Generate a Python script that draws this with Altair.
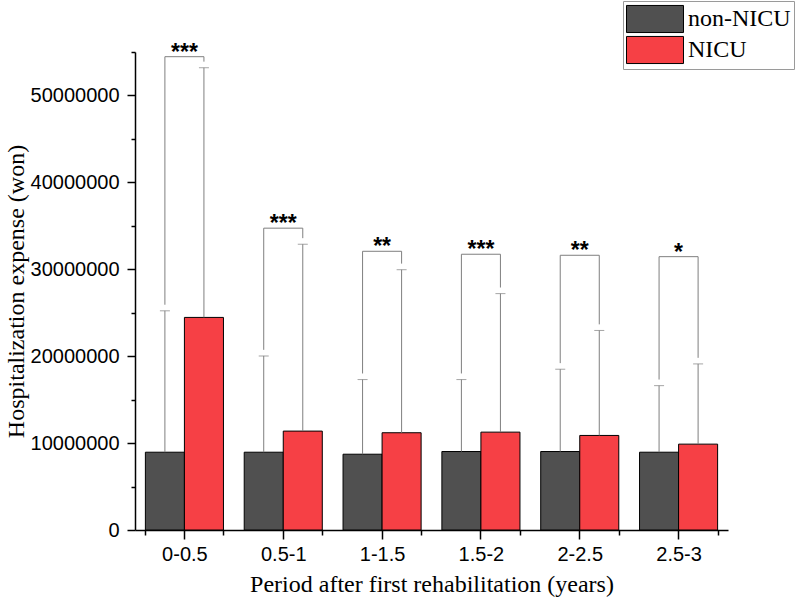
import altair as alt
import pandas as pd

# Mean hospitalization expense (won) and SD per period, by group
periods = ["0-0.5", "0.5-1", "1-1.5", "1.5-2", "2-2.5", "2.5-3"]
groups = ["non-NICU", "NICU"]
non_nicu_mean = [8950000, 8950000, 8720000, 9030000, 9030000, 8950000]
non_nicu_sd = [16270000, 11080000, 8590000, 8280000, 9470000, 7660000]
nicu_mean = [24460000, 11380000, 11190000, 11260000, 10880000, 9880000]
nicu_sd = [28730000, 21500000, 18760000, 15940000, 12080000, 9230000]

# Significance brackets
bracket_top = [54460000, 34730000, 32070000, 31730000, 31610000, 31450000]
stars = ["***", "***", "**", "***", "**", "*"]

major_ticks = [0, 10000000, 20000000, 30000000, 40000000, 50000000]
minor_ticks = [5000000, 15000000, 25000000, 35000000, 45000000, 55000000]

DARK = "#505050"
RED = "#f64045"
LINE = "#7f7f7f"
LEG_GAP = 700000  # small gap between an error cap and the bracket leg above it

rows = []
for i, p in enumerate(periods):
    rows.append({"period": p, "group": "non-NICU", "mean": non_nicu_mean[i],
                 "hi": non_nicu_mean[i] + non_nicu_sd[i]})
    rows.append({"period": p, "group": "NICU", "mean": nicu_mean[i],
                 "hi": nicu_mean[i] + nicu_sd[i]})
bars = pd.DataFrame(rows)

br_rows = []
for i, p in enumerate(periods):
    lo_left = non_nicu_mean[i] + non_nicu_sd[i] + LEG_GAP
    lo_right = nicu_mean[i] + nicu_sd[i] + LEG_GAP
    br_rows += [
        {"period": p, "group": "non-NICU", "y": lo_left, "step": 0},
        {"period": p, "group": "non-NICU", "y": bracket_top[i], "step": 1},
        {"period": p, "group": "NICU", "y": bracket_top[i], "step": 2},
        {"period": p, "group": "NICU", "y": lo_right, "step": 3},
    ]
brackets = pd.DataFrame(br_rows)
labels = pd.DataFrame({"period": periods, "top": bracket_top, "stars": stars})

x_scale = alt.Scale(domain=periods, paddingInner=0.21, paddingOuter=0.105)
off_scale = alt.Scale(domain=groups, paddingInner=0, paddingOuter=0)
y_scale = alt.Scale(domain=[0, 55000000], nice=False, zero=True)

x_main = alt.X(
    "period:N", scale=x_scale,
    axis=alt.Axis(
        title="Period after first rehabilitation (years)", orient="bottom",
        tickBand="extent", tickSize=5, tickWidth=1.5, tickColor="black",
        domainColor="black", domainWidth=1.5, labelAngle=0,
        labelFont="Liberation Sans", labelFontSize=20, labelColor="black",
        labelPadding=9,
        titleFont="Liberation Serif", titleFontSize=24, titleFontWeight="normal",
        titleColor="black", titlePadding=8,
    ),
)
y_main = alt.Y(
    "mean:Q", scale=y_scale,
    axis=alt.Axis(
        title="Hospitalization expense (won)", orient="left", values=major_ticks,
        format="d", tickSize=8, tickWidth=1.5, tickColor="black",
        domainColor="black", domainWidth=1.5, grid=False,
        labelFont="Liberation Sans", labelFontSize=20, labelColor="black",
        labelPadding=8,
        titleFont="Liberation Serif", titleFontSize=24, titleFontWeight="normal",
        titleColor="black", titlePadding=2,
    ),
)

bar_layer = alt.Chart(bars).mark_bar(stroke="black", strokeWidth=1).encode(
    x=x_main,
    xOffset=alt.XOffset("group:N", scale=off_scale),
    y=y_main,
    color=alt.Color(
        "group:N",
        scale=alt.Scale(domain=groups, range=[DARK, RED]),
        legend=alt.Legend(
            title=None, orient="none", legendX=488, legendY=-51,
            direction="vertical",
            symbolType="M-2,-0.95H2V0.95H-2Z", symbolSize=812,
            symbolOffset=14, labelOffset=18,
            symbolStrokeColor="black", symbolStrokeWidth=1, symbolOpacity=1,
            labelFont="Liberation Serif", labelFontSize=24, labelColor="black",
            strokeColor="#9a9a9a", fillColor="white",
            padding=3, rowPadding=-3,
        ),
    ),
)

# Error bars carry the minor ticks of both axes
err_layer = alt.Chart(bars).mark_rule(color=LINE, strokeWidth=1).encode(
    x=alt.X("period:N", scale=x_scale,
            axis=alt.Axis(title=None, orient="bottom", labels=False, domain=False,
                          tickSize=9, tickWidth=1.5, tickColor="black",
                          tickBand="center")),
    xOffset=alt.XOffset("group:N", scale=off_scale),
    y=alt.Y("mean:Q", scale=y_scale,
            axis=alt.Axis(title=None, orient="left", values=minor_ticks,
                          labels=False, domain=False, grid=False,
                          tickSize=4, tickWidth=1.5, tickColor="black")),
    y2="hi:Q",
)

cap_layer = alt.Chart(bars).mark_tick(color=LINE, size=10, thickness=1).encode(
    x=alt.X("period:N", scale=x_scale, axis=None),
    xOffset=alt.XOffset("group:N", scale=off_scale),
    y=alt.Y("hi:Q", scale=y_scale, axis=None),
)

bracket_layer = alt.Chart(brackets).mark_line(color=LINE, strokeWidth=1).encode(
    x=alt.X("period:N", scale=x_scale, axis=None),
    xOffset=alt.XOffset("group:N", scale=off_scale),
    y=alt.Y("y:Q", scale=y_scale, axis=None),
    detail="period:N",
    order="step:Q",
)

star_layer = alt.Chart(labels).mark_text(
    font="Liberation Sans", fontSize=23, fontWeight="bold", color="black",
    baseline="alphabetic", dy=3
).encode(
    x=alt.X("period:N", scale=x_scale, axis=None),
    y=alt.Y("top:Q", scale=y_scale, axis=None),
    text="stars:N",
)

chart = (
    alt.layer(bar_layer, err_layer, cap_layer, bracket_layer, star_layer)
    .resolve_axis(x="independent", y="independent")
    .properties(
        width=593, height=478,
        autosize=alt.AutoSizeParams(type="none"),
        padding={"left": 135, "top": 52, "right": 72, "bottom": 76},
        background="white",
    )
    .configure_view(stroke=None)
)

chart.save("out.html", embed_options={"renderer": "svg", "actions": False})
